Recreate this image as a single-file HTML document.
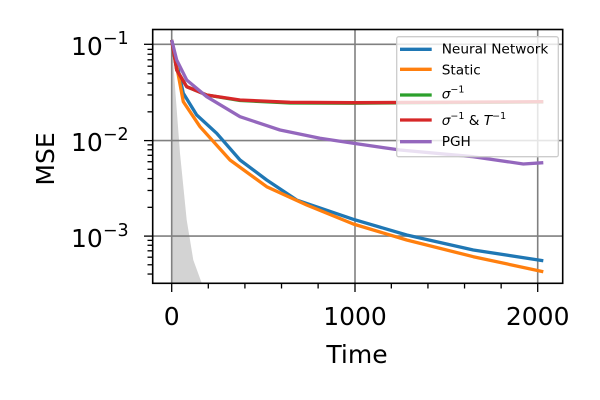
<!DOCTYPE html>
<html><head><meta charset="utf-8"><style>
body{margin:0;background:#fff}
svg{display:block;font-family:"DejaVu Sans","Liberation Sans",sans-serif}
</style></head><body>
<svg id="s" width="600" height="400" viewBox="0 0 600 400" xmlns="http://www.w3.org/2000/svg">
<rect width="600" height="400" fill="#fff"/>
<polygon points="171.7,40 175,86.7 180,153.3 186.7,220 193.3,260 201.7,283 171.7,283" fill="#d3d3d3"/>
<g stroke="#808080" stroke-width="1.6">
<line x1="171.7" y1="29.5" x2="171.7" y2="283.3"/>
<line x1="355" y1="29.5" x2="355" y2="283.3"/>
<line x1="537.7" y1="29.5" x2="537.7" y2="283.3"/>
<line x1="152.7" y1="44.3" x2="562.7" y2="44.3"/>
<line x1="152.7" y1="140.6" x2="562.7" y2="140.6"/>
<line x1="152.7" y1="236.1" x2="562.7" y2="236.1"/>
</g>
<g fill="none" stroke-width="3.3" stroke-linejoin="round">
<polyline stroke="#1f77b4" points="171.7,40 183.3,93.3 196.7,115 216.7,133.3 240,160 266.7,180 296.7,200 353.3,219.3 406.7,235 473.3,250 543.3,260.7"/>
<polyline stroke="#ff7f0e" points="171.7,40 183.3,101.7 200,126.7 230,160 266.7,186.7 306.7,205 353.3,224 406.7,240 473.3,256.7 543.3,271.7"/>
<polyline stroke="#2ca02c" points="171.7,40 176.7,70 186.7,86.7 206.7,95 240,100.5 290,103 353.3,103.2 543.3,102"/>
<polyline stroke="#d62728" points="171.7,40 176.7,70 186.7,86.7 206.7,95 240,100 290,102.3 353.3,102.7 543.3,101.7"/>
<polyline stroke="#9467bd" points="171.7,40 176.7,60 186.7,80 206.7,96.7 240,116.7 280,130 320,138.3 353.3,143.3 400,150 473.3,156.7 523.3,164 543.3,162.7"/>
</g>
<rect x="396.7" y="36.7" width="161.6" height="120" rx="2" fill="#fff" fill-opacity="0.8" stroke="#ccc" stroke-width="1.3"/>
<g stroke-width="3.3">
<line x1="400" y1="49.3" x2="431.7" y2="49.3" stroke="#1f77b4"/>
<line x1="400" y1="69.3" x2="431.7" y2="69.3" stroke="#ff7f0e"/>
<line x1="400" y1="95" x2="431.7" y2="95" stroke="#2ca02c"/>
<line x1="400" y1="120" x2="431.7" y2="120" stroke="#d62728"/>
<line x1="400" y1="141.7" x2="431.7" y2="141.7" stroke="#9467bd"/>
</g>
<g font-size="13.7" fill="#000">
<text x="441.7" y="53.7">Neural Network</text>
<text x="441.7" y="74.3">Static</text>
<text x="441.7" y="98.3"><tspan font-style="italic">σ</tspan><tspan font-size="9.5" dy="-6">−1</tspan></text>
<text x="441.7" y="125"><tspan font-style="italic">σ</tspan><tspan font-size="9.5" dy="-6">−1</tspan><tspan dy="6"> &amp; </tspan><tspan font-style="italic">T</tspan><tspan font-size="9.5" dy="-6">−1</tspan></text>
<text x="441.7" y="146">PGH</text>
</g>
<rect x="152.7" y="29.5" width="410" height="253.8" fill="none" stroke="#000" stroke-width="1.6"/>
<g id="ticks" stroke="#000" stroke-width="1.3"></g>
<g font-size="25" fill="#000">
<text x="71" y="55">10<tspan font-size="17.5" dy="-11">−1</tspan></text>
<text x="71" y="151">10<tspan font-size="17.5" dy="-11">−2</tspan></text>
<text x="71" y="247">10<tspan font-size="17.5" dy="-11">−3</tspan></text>
<text x="171.7" y="325" text-anchor="middle">0</text>
<text x="355" y="325" text-anchor="middle">1000</text>
<text x="537.7" y="325" text-anchor="middle">2000</text>
<text x="357" y="363" text-anchor="middle">Time</text>
<text transform="translate(54,159) rotate(-90)" text-anchor="middle">MSE</text>
</g>
</svg>
<script>
var g=document.getElementById('ticks'),h='';
[171.7,355,537.7].forEach(function(x){h+='<line x1="'+x+'" y1="283.3" x2="'+x+'" y2="292"/>';});
for(var i=1;i<10;i++){if(i%5==0)continue;var x=171.7+i*200*0.18303;h+='<line x1="'+x+'" y1="283.3" x2="'+x+'" y2="288.5"/>';}
[44.3,140.6,236.1].forEach(function(y){h+='<line x1="144" y1="'+y+'" x2="152.7" y2="'+y+'"/>';});
[140.6,236.1,331.6].forEach(function(y0){for(var m=2;m<10;m++){var y=y0-95.6*Math.log10(m);if(y>29.5&&y<283.3)h+='<line x1="147.5" y1="'+y+'" x2="152.7" y2="'+y+'"/>';}});
g.innerHTML=h;
</script>
</body></html>
